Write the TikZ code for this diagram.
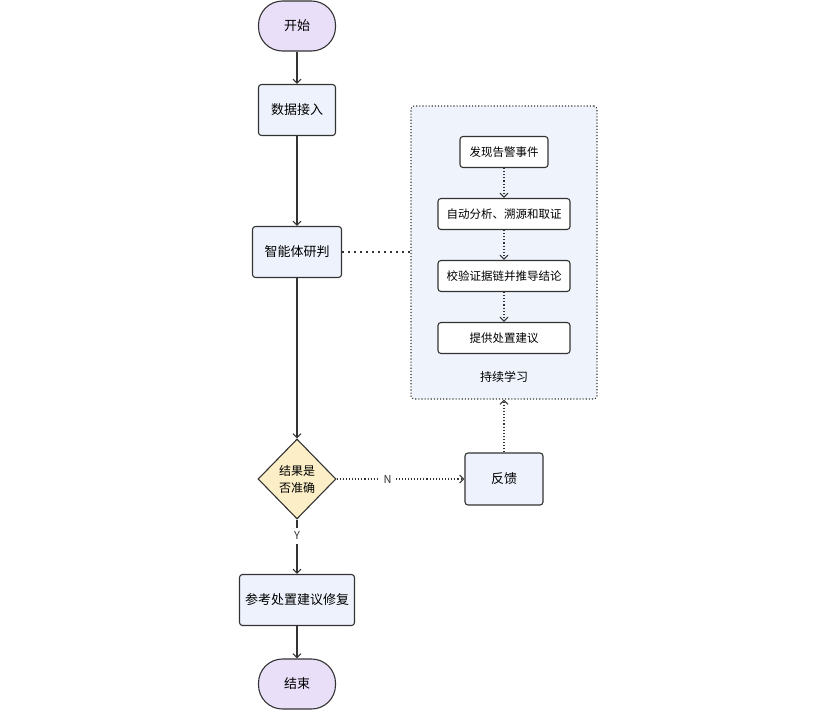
\documentclass[tikz,border=0pt]{standalone}
\usepackage{fontspec}
\setmainfont{Noto Sans CJK SC}
\usetikzlibrary{arrows.meta,shapes.geometric}
\definecolor{lineC}{HTML}{333333}
\definecolor{termC}{HTML}{E9DFF9}
\definecolor{boxC}{HTML}{EEF2FC}
\definecolor{grpC}{HTML}{EEF3FC}
\definecolor{decC}{HTML}{FCEFC7}
\begin{document}
\begin{tikzpicture}[x=1pt, y=-1pt]

      \tikzset{term/.style={draw=lineC, rounded corners=24pt, line width=1.1pt, fill=termC, minimum width=77pt, minimum height=50pt, font=\fontsize{13}{16}\selectfont},
               proc/.style={draw=lineC, rounded corners=3pt, line width=1.1pt, fill=boxC, minimum height=51pt, font=\fontsize{13}{16}\selectfont},
               sub/.style={draw=lineC, rounded corners=3pt, line width=1.1pt, fill=white, minimum height=31pt, font=\fontsize{11.5}{14}\selectfont},
               decide/.style={draw=lineC, diamond, line width=1.1pt, fill=decC, minimum width=78pt, minimum height=80pt, inner sep=0pt, align=center, font=\fontsize{12}{17}\selectfont},
               flow/.style={-{Straight Barb[length=4pt, width=8pt]}, line width=1.1pt, lineC},
               dflow/.style={flow, dotted, line width=1.1pt}}
      \useasboundingbox (0,0) rectangle (837,720);
%% Group
      	\node[draw=lineC, dotted, line width=1.1pt, rounded corners=3pt, fill=grpC, minimum width=186pt, minimum height=293pt] (grp) at (504,252.5) {};
      	\node[font=\fontsize{12}{14}\selectfont] (grpLabel) at (504,377) {持续学习};
%% Nodes
      	\node[term] (start) at (297,26) {开始};
      	\node[proc, minimum width=77pt] (ingest) at (297,110) {数据接入};
      	\node[proc, minimum width=89pt] (judge) at (297,252) {智能体研判};
      	\node[sub, minimum width=88pt] (alert) at (504,152) {发现告警事件};
      	\node[sub, minimum width=132pt] (analyse) at (504,214) {自动分析、溯源和取证};
      	\node[sub, minimum width=132pt] (verify) at (504,276) {校验证据链并推导结论};
      	\node[sub, minimum width=132pt] (advise) at (504,338) {提供处置建议};
      	\node[decide] (check) at (297,479) {结果是\\否准确};
      	\node[proc, minimum width=78pt, minimum height=52pt] (feedback) at (504,479) {反馈};
      	\node[proc, minimum width=115pt] (repair) at (297,600) {参考处置建议修复};
      	\node[term] (finish) at (297,684) {结束};
%Edges
		\path [flow] (start) edge (ingest);
		\path [flow] (ingest) edge (judge);
		\path [flow] (judge) edge (check);
		\path [lineC, line width=2.5pt, dash pattern=on 2pt off 4pt] (judge) edge (grp.west |- judge);
		\path [dflow] (alert) edge (analyse);
		\path [dflow] (analyse) edge (verify);
		\path [dflow] (verify) edge (advise);
		\path [dflow] (check) edge node[fill=white, font=\fontsize{11}{13}\selectfont, inner sep=4pt, pos=0.4] {N} (feedback);
		\path [dflow] (feedback.north) edge (feedback.north |- grp.south);
		\path [flow] (check) edge node[fill=white, font=\fontsize{11}{13}\selectfont, inner sep=4pt, pos=0.3] {Y} (repair);
		\path [flow] (repair) edge (finish);

	\end{tikzpicture}
\end{document}
